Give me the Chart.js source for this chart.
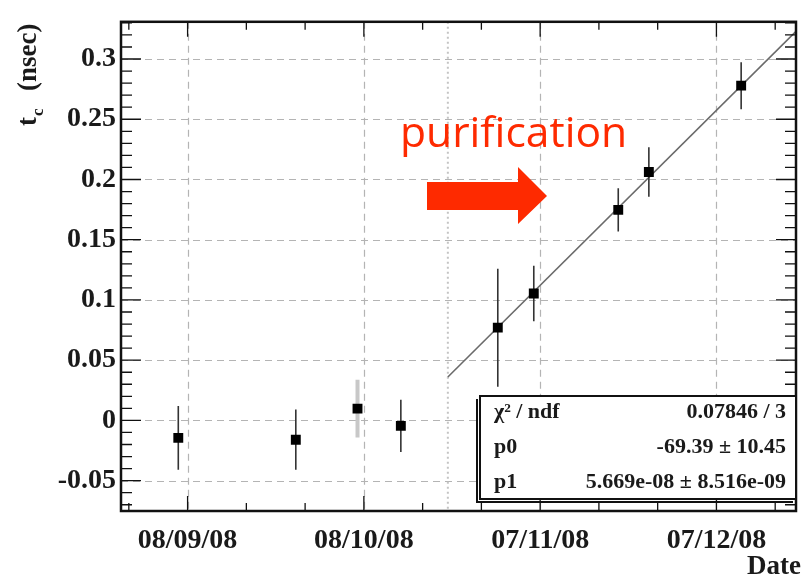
<!DOCTYPE html>
<html><head><meta charset="utf-8">
<script src="https://cdn.jsdelivr.net/npm/chart.js@4/dist/chart.umd.min.js"></script>
<style>html,body{margin:0;padding:0;background:#fff}#wrap{width:803px;height:577px}</style>
</head><body><div id="wrap"><canvas id="c" width="803" height="577"></canvas></div>
<script>
// ---- data ----
const refDate = '2008-09-08';
const pointDates = ['2008-09-06T10:00','2008-09-26T10:00','2008-10-06T22:00','2008-10-14T07:00','2008-10-30T19:00','2008-11-05T22:00','2008-11-20T07:00','2008-11-25T12:00','2008-12-11T05:00'];
const tcValues = [-0.0145,-0.016,0.0098,-0.0045,0.077,0.1053,0.1748,0.2062,0.2779];
const tcErrors = [0.0265,0.025,0.024,0.0217,0.049,0.023,0.018,0.0205,0.0195];
const fitDates = ['2008-10-22T07:00','2008-12-20T13:00'];
const fitValues = [0.036,0.323];
const purificationDate = '2008-10-22T07:00';
const xTickDates = ['2008-09-08','2008-10-08','2008-11-07','2008-12-07'];
const xTickLabels = ['08/09/08','08/10/08','07/11/08','07/12/08'];
const yTickValues = [-0.05,0,0.05,0.1,0.15,0.2,0.25,0.3];
const yTickLabels = ['-0.05','0','0.05','0.1','0.15','0.2','0.25','0.3'];
const xRange = ['2008-08-27T16:00','2008-12-20T13:00'];
const yRange = [-0.0752, 0.3309];
const statsRows = [['χ² / ndf','0.07846 / 3'],['p0','-69.39 ± 10.45'],['p1','5.669e-08 ± 8.516e-09']];
const annotationText = 'purification';

const toDay = s => { const t = s.length === 10 ? s + 'T00:00' : s; return (Date.parse(t + 'Z') - Date.parse(refDate + 'T00:00Z')) / 86400000; };

const markerData = pointDates.map((d, i) => ({x: toDay(d), y: tcValues[i]}));
const errData = [];
pointDates.forEach((d, i) => {
  const x = toDay(d);
  errData.push({x, y: tcValues[i] - tcErrors[i]}, {x, y: tcValues[i] + tcErrors[i]}, {x, y: null});
});
const fitData = fitDates.map((d, i) => ({x: toDay(d), y: fitValues[i]}));

const SERIF = '"Liberation Serif", "DejaVu Serif", serif';
const RED = '#fe2a00';

const deco = {
  id: 'deco',
  beforeDatasetsDraw(chart) {
    const {ctx, chartArea: a, scales: {x, y}} = chart;
    ctx.save();
    ctx.strokeStyle = '#b4b4b4';
    ctx.lineWidth = 1.2;
    ctx.setLineDash([7, 5]);
    yTickValues.forEach(v => {
      const py = Math.round(y.getPixelForValue(v)) + 0.5;
      ctx.beginPath(); ctx.moveTo(a.left, py); ctx.lineTo(a.right, py); ctx.stroke();
    });
    xTickDates.forEach(d => {
      const px = Math.round(x.getPixelForValue(toDay(d))) + 0.5;
      ctx.beginPath(); ctx.moveTo(px, a.top); ctx.lineTo(px, a.bottom); ctx.stroke();
    });
    // purification marker line
    ctx.strokeStyle = '#c4c4c4';
    ctx.lineWidth = 2;
    ctx.setLineDash([2, 3]);
    const pp = x.getPixelForValue(toDay(purificationDate));
    ctx.beginPath(); ctx.moveTo(pp, a.top); ctx.lineTo(pp, a.bottom); ctx.stroke();
    ctx.restore();
  },
  afterDatasetsDraw(chart) {
    const {ctx, chartArea: a, scales: {x, y}} = chart;
    ctx.save();
    ctx.setLineDash([]);
    ctx.strokeStyle = '#111';
    ctx.lineWidth = 1.3;
    // minor + major ticks y (left & right)
    for (let k = -7; k <= 33; k++) {
      const v = k / 100;
      const py = y.getPixelForValue(v);
      if (py < a.top || py > a.bottom) continue;
      const major = k % 5 === 0;
      const len = major ? 20 : 11;
      ctx.beginPath();
      ctx.moveTo(a.left, py); ctx.lineTo(a.left + len, py);
      ctx.moveTo(a.right, py); ctx.lineTo(a.right - len, py);
      ctx.stroke();
    }
    for (let k = -1; k <= 10; k++) {
      const px = x.getPixelForValue(k * 10);
      if (px < a.left || px > a.right) continue;
      const major = k % 3 === 0;
      const len = major ? 15 : 8;
      ctx.beginPath();
      ctx.moveTo(px, a.bottom); ctx.lineTo(px, a.bottom - len);
      ctx.moveTo(px, a.top); ctx.lineTo(px, a.top + len);
      ctx.stroke();
    }
    // frame
    ctx.lineWidth = 2.5;
    ctx.strokeRect(a.left, a.top, a.right - a.left, a.bottom - a.top);

    // stats box
    const bx = 480, by = 396, bw = 316, bh = 103;
    ctx.fillStyle = '#fff';
    ctx.fillRect(bx, by, bw, bh);
    ctx.lineWidth = 2;
    ctx.strokeStyle = '#111';
    ctx.strokeRect(bx, by, bw, bh);
    ctx.beginPath();
    ctx.moveTo(bx - 3, by + 3); ctx.lineTo(bx - 3, by + bh + 3); ctx.lineTo(bx + bw - 3, by + bh + 3);
    ctx.stroke();
    ctx.fillStyle = '#1a1a1a';
    ctx.font = 'bold 22px ' + SERIF;
    ctx.textBaseline = 'middle';
    statsRows.forEach((r, i) => {
      const ry = by + 16 + i * 35;
      ctx.textAlign = 'left'; ctx.fillText(r[0], bx + 14, ry);
      ctx.textAlign = 'right'; ctx.fillText(r[1], bx + bw - 10, ry);
    });

    // red annotation text
    ctx.fillStyle = RED;
    ctx.font = '40px "Open Sans", sans-serif';
    const w40 = ctx.measureText(annotationText).width;
    const fs = 40 * 227 / w40;
    ctx.font = fs.toFixed(1) + 'px "Open Sans", sans-serif';
    ctx.textAlign = 'left';
    ctx.textBaseline = 'alphabetic';
    ctx.fillText(annotationText, 400, 147);
    // arrow
    ctx.beginPath();
    ctx.moveTo(427, 182); ctx.lineTo(518, 182); ctx.lineTo(518, 167);
    ctx.lineTo(547, 196); ctx.lineTo(518, 224); ctx.lineTo(518, 210);
    ctx.lineTo(427, 210); ctx.closePath();
    ctx.fill();

    // axis titles
    ctx.fillStyle = '#1a1a1a';
    ctx.font = 'bold 27px ' + SERIF;
    ctx.textAlign = 'right';
    ctx.textBaseline = 'alphabetic';
    ctx.fillText('Date', 801, 574);

    ctx.translate(36, 126);
    ctx.rotate(-Math.PI / 2);
    ctx.textAlign = 'left';
    ctx.font = 'bold 27px ' + SERIF;
    ctx.fillText('t', 0, 0);
    const tw = ctx.measureText('t').width;
    ctx.font = 'bold 17px ' + SERIF;
    ctx.fillText('c', tw + 1, 7);
    ctx.font = 'bold 27px ' + SERIF;
    ctx.fillText('(nsec)', 35, 0);
    ctx.restore();
  }
};

new Chart(document.getElementById('c'), {
  type: 'line',
  data: {
    datasets: [
      {label: 'tc', data: markerData, showLine: false, pointStyle: 'rect', pointRadius: 7, pointHoverRadius: 7,
       backgroundColor: '#000', borderColor: '#000', borderWidth: 0, order: 0},
      {label: 'err', data: errData, spanGaps: false, borderColor: '#333', borderWidth: 1.6, pointRadius: 0, pointHoverRadius: 0, order: 1,
       segment: {
         borderColor: c => Math.floor(c.p0DataIndex / 3) === 2 ? '#c8c8c8' : '#333',
         borderWidth: c => Math.floor(c.p0DataIndex / 3) === 2 ? 4 : 1.6
       }},
      {label: 'fit', data: fitData, borderColor: '#6a6a6a', borderWidth: 1.6, pointRadius: 0, pointHoverRadius: 0, order: 2}
    ]
  },
  options: {
    responsive: false,
    animation: false,
    events: [],
    layout: {padding: {top: 14, right: 3, left: 0, bottom: 0}},
    plugins: {legend: {display: false}, tooltip: {enabled: false}},
    scales: {
      x: {
        type: 'linear',
        min: toDay(xRange[0]), max: toDay(xRange[1]),
        grid: {display: false, drawTicks: false},
        border: {display: false},
        afterBuildTicks: s => { s.ticks = xTickDates.map(d => ({value: toDay(d)})); },
        afterFit: s => { s.height = 66; },
        ticks: {
          autoSkip: false, maxRotation: 0, padding: 13,
          color: '#1a1a1a', font: {family: SERIF, size: 28, weight: 'bold'},
          callback: (v, i) => xTickLabels[i]
        }
      },
      y: {
        type: 'linear',
        min: yRange[0], max: yRange[1],
        grid: {display: false, drawTicks: false},
        border: {display: false},
        afterBuildTicks: s => { s.ticks = yTickValues.map(v => ({value: v})); },
        afterFit: s => { s.width = 121; },
        ticks: {
          autoSkip: false, padding: 5,
          color: '#1a1a1a', font: {family: SERIF, size: 28, weight: 'bold'},
          callback: (v, i) => yTickLabels[i]
        }
      }
    }
  },
  plugins: [deco]
});
</script>
</body></html>
